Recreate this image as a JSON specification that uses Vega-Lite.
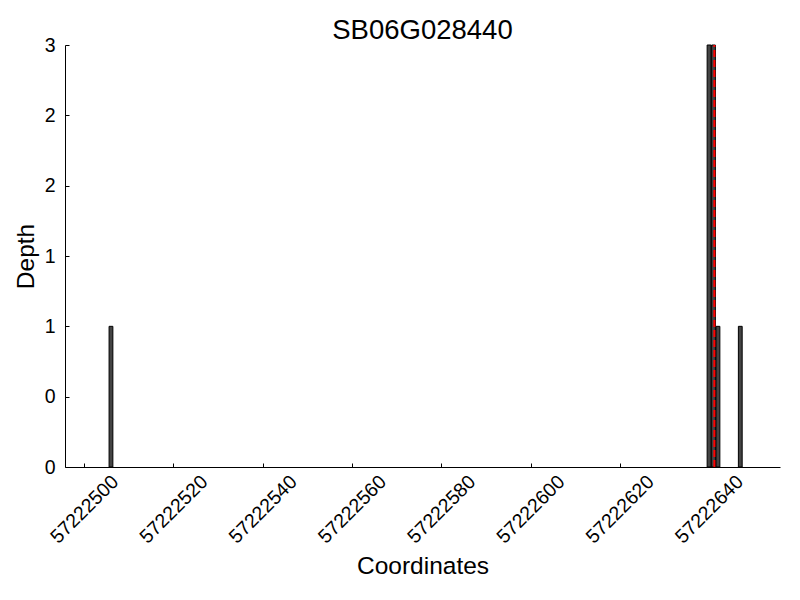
{
  "$schema": "https://vega.github.io/schema/vega-lite/v6.json",
  "autosize": {"type": "none"},
  "width": 715,
  "height": 422,
  "padding": {"left": 65, "top": 45, "right": 20, "bottom": 133},
  "background": "white",
  "config": {
    "view": {"stroke": null},
    "font": "Liberation Sans"
  },
  "title": {
    "text": "SB06G028440",
    "fontSize": 27.5,
    "fontWeight": "normal",
    "font": "Liberation Sans",
    "color": "black",
    "baseline": "alphabetic",
    "offset": -31
  },
  "datasets": {
    "depth": [
      {"pos": 57222506, "depth": 1},
      {"pos": 57222640, "depth": 3},
      {"pos": 57222641, "depth": 3},
      {"pos": 57222642, "depth": 1},
      {"pos": 57222647, "depth": 1}
    ],
    "marker": [
      {"pos": 57222641.2, "lo": 0, "hi": 3}
    ]
  },
  "layer": [
    {
      "data": {"name": "depth"},
      "mark": {"type": "bar", "size": 3.8, "fill": "#444444", "stroke": "black", "strokeWidth": 1},
      "encoding": {
        "x": {
          "field": "pos",
          "type": "quantitative",
          "scale": {"domain": [57222495.7, 57222655.9], "nice": false, "zero": false, "padding": 0},
          "axis": {
            "title": "Coordinates",
            "titleFontSize": 24.5,
            "titleFontWeight": "normal",
            "titleColor": "black",
            "titlePadding": 8,
            "values": [57222500, 57222520, 57222540, 57222560, 57222580, 57222600, 57222620, 57222640],
            "format": "d",
            "labelAngle": -45,
            "labelAlign": "center",
            "labelBaseline": "middle",
            "labelFontSize": 19.5,
            "labelColor": "black",
            "labelPadding": 46,
            "tickSize": -4,
            "tickColor": "black",
            "domainColor": "black",
            "grid": false,
            "labelFlush": false,
            "labelOverlap": false
          }
        },
        "y": {
          "field": "depth",
          "type": "quantitative",
          "scale": {"domain": [0, 3], "nice": false, "padding": 0},
          "axis": {
            "title": "Depth",
            "titleFontSize": 24.5,
            "titleFontWeight": "normal",
            "titleColor": "black",
            "titlePadding": 6,
            "values": [0, 0.5, 1, 1.5, 2, 2.5, 3],
            "labelExpr": "floor(datum.value)",
            "labelFontSize": 19.5,
            "labelColor": "black",
            "labelPadding": 14,
            "tickSize": -4,
            "tickColor": "black",
            "domainColor": "black",
            "grid": false,
            "labelFlush": false,
            "labelOverlap": false
          }
        }
      }
    },
    {
      "data": {"name": "marker"},
      "mark": {"type": "rule", "color": "red", "strokeWidth": 2, "strokeDash": [7, 3]},
      "encoding": {
        "x": {"field": "pos", "type": "quantitative"},
        "y": {"field": "lo", "type": "quantitative"},
        "y2": {"field": "hi"}
      }
    }
  ]
}
